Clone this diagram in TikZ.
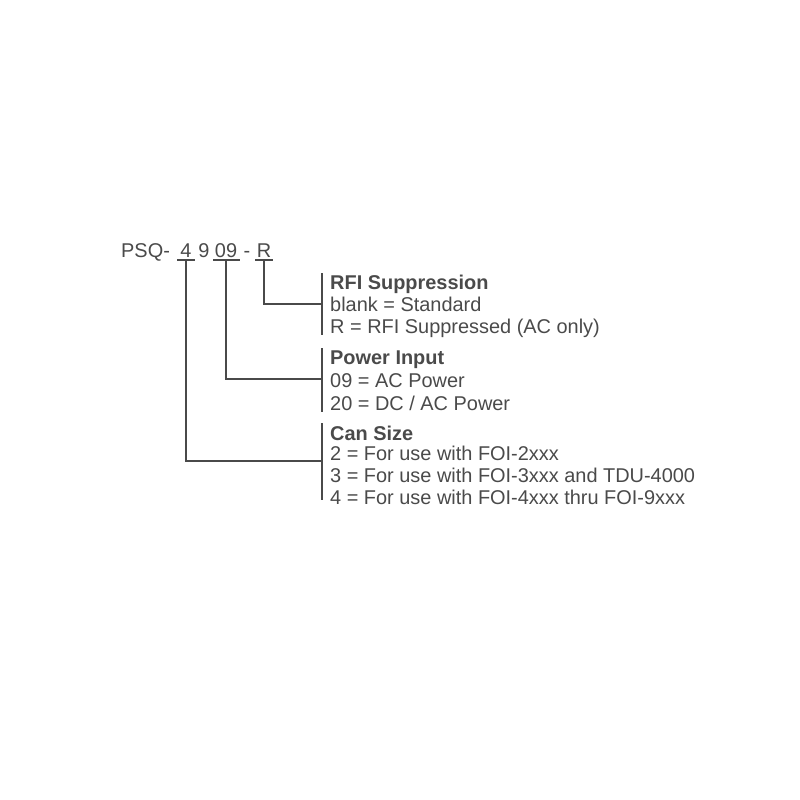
\documentclass[tikz,border=0pt]{standalone}
\usepackage{fontspec}
\setmainfont{Liberation Sans}
\usetikzlibrary{positioning}
\definecolor{ink}{HTML}{4A4A4A}
\tikzset{
  lbl/.style={anchor=base west, inner sep=0pt, text=ink, font=\fontsize{20}{24}\selectfont},
  hdr/.style={lbl, font=\fontsize{20}{24}\selectfont\bfseries},
  dig/.style={lbl, anchor=base},
  lead/.style={draw=ink, line width=1.3pt},
}
\begin{document}
\begin{tikzpicture}[x=1bp,y=-1bp]
\useasboundingbox (0,0) rectangle (800,800);
% part number
\node[lbl] (pn) at (121,257) {PSQ-};
\node[dig] (d4) at (186,257) {4};
\node[dig] (d9) at (204,257) {9};
\node[dig] (d09) at (226,257) {09};
\node[dig] (dash) at (247,257) {-};
\node[dig] (dR) at (264,257) {R};
\coordinate (c4) at (186,260);
\coordinate (c09) at (226,260);
\coordinate (cR) at (264,260);
\draw[lead] (177,260) -- (195,260);
\draw[lead] (213,260) -- (240,260);
\draw[lead] (255,260) -- (273,260);
% brackets
\draw[lead] (322,273) -- (322,335);
\draw[lead] (322,348) -- (322,412);
\draw[lead] (322,423) -- (322,500);
\coordinate (bR) at (322,304);
\coordinate (b09) at (322,379);
\coordinate (b4) at (322,461);
\draw[lead] (cR) |- (bR);
\draw[lead] (c09) |- (b09);
\draw[lead] (c4) |- (b4);
% texts
\node[hdr] (rfi) at (330,289) {RFI Suppression};
\node[lbl] (rfi1) at (330,311) {blank = Standard};
\node[lbl] (rfi2) at (330,333) {R = RFI Suppressed (AC only)};
\node[hdr] (pwr) at (330,364) {Power Input};
\node[lbl] (pwr1) at (330,387) {09 = AC Power};
\node[lbl] (pwr2) at (330,410) {20 = DC / AC Power};
\node[hdr] (can) at (330,440) {Can Size};
\node[lbl] (can1) at (330,460) {2 = For use with FOI-2xxx};
\node[lbl] (can2) at (330,482) {3 = For use with FOI-3xxx and TDU-4000};
\node[lbl] (can3) at (330,504) {4 = For use with FOI-4xxx thru FOI-9xxx};
\end{tikzpicture}
\end{document}
